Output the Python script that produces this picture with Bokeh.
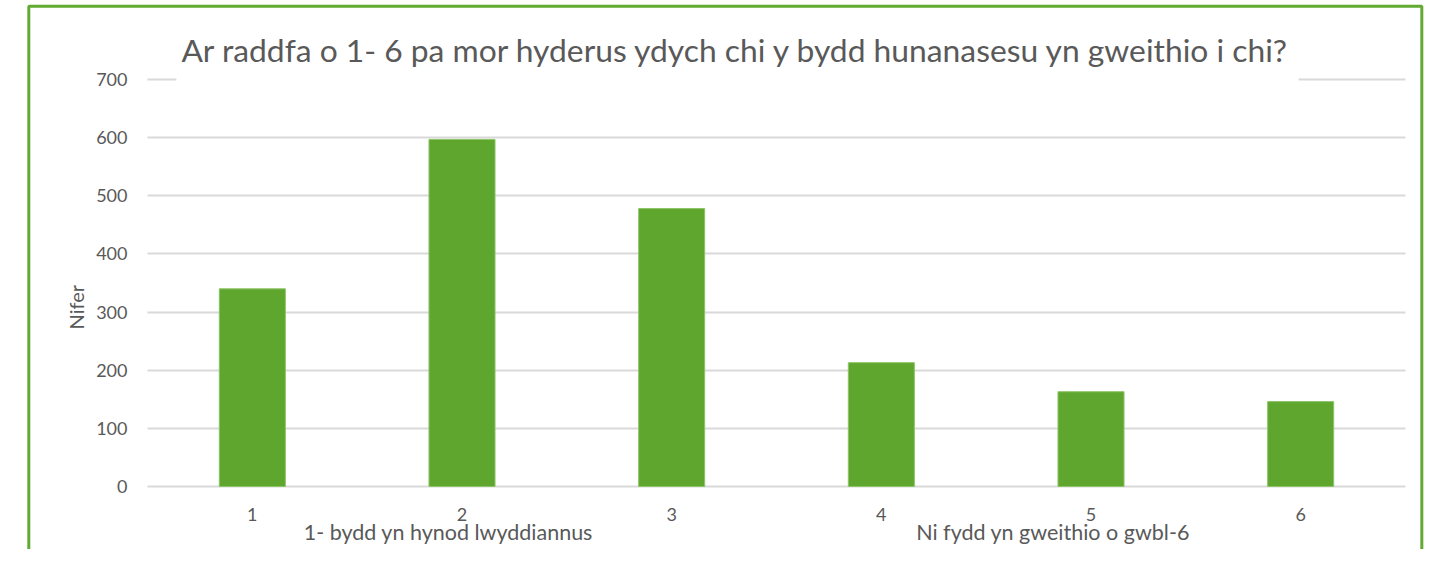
from math import pi
from bokeh.plotting import figure
from bokeh.models import FixedTicker, Label, BoxAnnotation
from bokeh.embed import file_html
from bokeh.resources import INLINE

# ---- data ----
categories = ["1", "2", "3", "4", "5", "6"]
counts = [340, 597, 478, 213, 163, 146]
y_ticks = [0, 100, 200, 300, 400, 500, 600, 700]
title_text = "Ar raddfa o 1- 6 pa mor hyderus ydych chi y bydd hunanasesu yn gweithio i chi?"
y_label = "Nifer"
low_note = "1- bydd yn hynod lwyddiannus"
high_note = "Ni fydd yn gweithio o gwbl-6"

FONT = "Lato"
TXT = "#595959"
GREEN = "#5fa62e"
BORDER = "#62ab33"

xs = list(range(1, len(categories) + 1))

p = figure(width=1430, height=549, output_backend="svg", toolbar_location=None,
           x_range=(-0.2011, 6.6192), y_range=(-108.35, 835.87),
           min_border_left=0, min_border_right=0,
           min_border_top=0, min_border_bottom=0)
p.outline_line_color = None
p.background_fill_color = "white"
p.border_fill_color = "white"

p.vbar(x=xs, top=counts, width=0.315, bottom=0,
       fill_color=GREEN, line_color="#8cc466", line_width=1)

# axes drawn inside the frame at the plot-area edges
p.yaxis.fixed_location = 0.5
p.yaxis.ticker = FixedTicker(ticks=y_ticks)
p.yaxis.axis_line_color = None
p.yaxis.major_tick_line_color = None
p.yaxis.minor_tick_line_color = None
p.yaxis.major_tick_out = 0
p.yaxis.major_label_standoff = 20
p.yaxis.major_label_text_font = FONT
p.yaxis.major_label_text_font_size = "18px"
p.yaxis.major_label_text_color = TXT

p.xaxis.fixed_location = 0
p.xaxis.ticker = FixedTicker(ticks=xs)
p.xaxis.major_label_overrides = {x: c for x, c in zip(xs, categories)}
p.xaxis.axis_line_color = None
p.xaxis.major_tick_line_color = None
p.xaxis.minor_tick_line_color = None
p.xaxis.major_tick_out = 0
p.xaxis.major_label_standoff = 21
p.xaxis.major_label_text_font = FONT
p.xaxis.major_label_text_font_size = "18px"
p.xaxis.major_label_text_color = TXT

p.xgrid.visible = False
p.ygrid.grid_line_color = "#d9d9d9"
p.ygrid.grid_line_width = 2

# keep gridlines to the plot area only
for l, r in [(-1.0, 0.5), (6.5, 8.0)]:
    p.add_layout(BoxAnnotation(left=l, right=r, bottom=-1000, top=1000,
                               fill_color="white", fill_alpha=1.0,
                               line_color=None, level="underlay"))

# white box behind title interrupting the top gridline
p.add_layout(BoxAnnotation(left=0.638, right=5.99, bottom=690, top=790,
                           fill_color="white", fill_alpha=1.0, line_color=None))

p.add_layout(Label(x=3.309, y=750.7, text=title_text, text_align="center",
                   text_baseline="middle", text_font=FONT,
                   text_font_size="31.8px", text_color=TXT))

p.add_layout(Label(x=0.158, y=308.3, text=y_label, angle=pi / 2,
                   text_align="center", text_baseline="middle", text_font=FONT,
                   text_font_size="20px", text_color=TXT))

p.add_layout(Label(x=1.935, y=-77.5, text=low_note, text_align="center",
                   text_baseline="middle", text_font=FONT,
                   text_font_size="21.5px", text_color=TXT))
p.add_layout(Label(x=4.819, y=-77.5, text=high_note, text_align="center",
                   text_baseline="middle", text_font=FONT,
                   text_font_size="21.5px", text_color=TXT))

# green outer border
p.add_layout(BoxAnnotation(left=-0.0661, right=6.5778, bottom=-300, top=826.1,
                           fill_color=None, fill_alpha=0, line_color=BORDER,
                           line_alpha=1.0, line_width=3))

open("out.html", "w").write(file_html(p, INLINE))
